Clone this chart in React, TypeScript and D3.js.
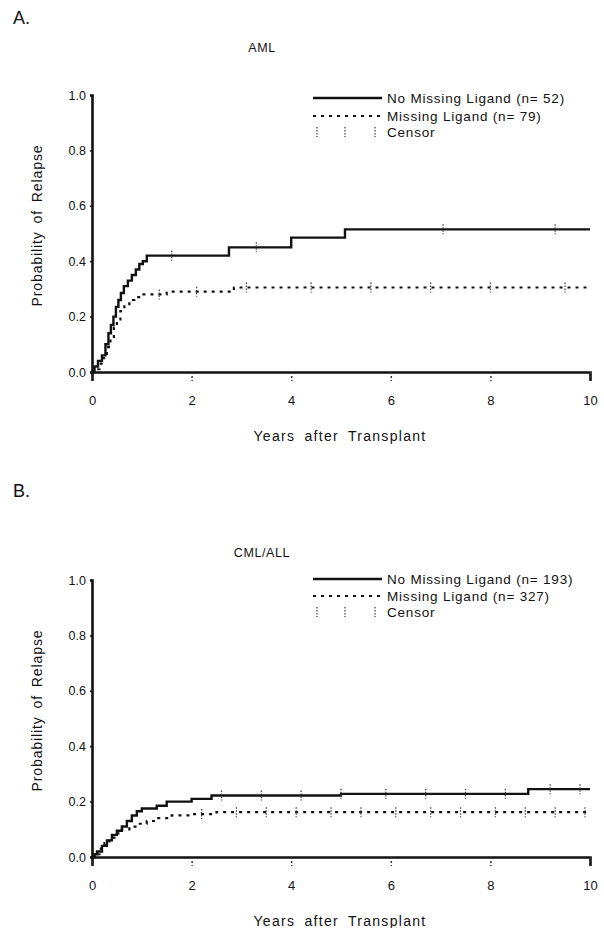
import React, { useEffect, useRef } from 'react';
import * as d3 from 'd3';

// AML panel: [years, cumulative probability] at each step
const amlNoMissing: [number, number][] = [
  [0, 0], [0.05, 0.02], [0.12, 0.04], [0.2, 0.06], [0.27, 0.1], [0.33, 0.14], [0.38, 0.17],
  [0.43, 0.2], [0.48, 0.235], [0.53, 0.26], [0.58, 0.285], [0.64, 0.31], [0.72, 0.33],
  [0.8, 0.35], [0.88, 0.37], [0.95, 0.39], [1.02, 0.4], [1.1, 0.42], [2.75, 0.45],
  [4.0, 0.485], [5.08, 0.515], [10, 0.515],
];
const amlMissing: [number, number][] = [
  [0, 0], [0.08, 0.01], [0.15, 0.03], [0.22, 0.05], [0.3, 0.09], [0.37, 0.12], [0.44, 0.16],
  [0.5, 0.19], [0.57, 0.22], [0.65, 0.245], [0.75, 0.26], [0.85, 0.27], [1.0, 0.28],
  [1.5, 0.29], [2.85, 0.305], [10, 0.305],
];
const amlNoMissingCensor = [1.6, 3.3, 7.05, 9.3];
const amlMissingCensor = [1.35, 2.1, 3.1, 4.4, 5.6, 6.8, 8.0, 9.5];

// CML/ALL panel
const cmlNoMissing: [number, number][] = [
  [0, 0], [0.05, 0.01], [0.1, 0.02], [0.2, 0.04], [0.3, 0.06], [0.4, 0.08], [0.5, 0.095],
  [0.6, 0.11], [0.7, 0.13], [0.8, 0.15], [0.9, 0.165], [1.0, 0.175], [1.3, 0.185],
  [1.5, 0.2], [2.0, 0.21], [2.4, 0.222], [5.0, 0.228], [8.76, 0.245], [10, 0.245],
];
const cmlMissing: [number, number][] = [
  [0, 0], [0.05, 0.01], [0.15, 0.03], [0.25, 0.05], [0.35, 0.07], [0.45, 0.085], [0.6, 0.1],
  [0.75, 0.11], [0.9, 0.12], [1.1, 0.13], [1.3, 0.14], [1.6, 0.15], [2.0, 0.155],
  [2.5, 0.162], [10, 0.162],
];
const cmlNoMissingCensor = [2.6, 3.4, 4.2, 5.0, 5.9, 6.7, 7.5, 8.3, 9.2, 9.8];
const cmlMissingCensor = [2.2, 2.9, 3.5, 4.1, 4.8, 5.4, 6.1, 6.8, 7.4, 8.1, 8.7, 9.3, 9.9];

const xTicks = [0, 2, 4, 6, 8, 10];
const yTicks = [0, 0.2, 0.4, 0.6, 0.8, 1.0];

const panels = [
  {
    letter: 'A.', title: 'AML', letterY: 24, titleY: 52, legY: [98, 116, 132],
    noMissing: amlNoMissing, missing: amlMissing,
    noCensor: amlNoMissingCensor, missCensor: amlMissingCensor,
    labels: ['No Missing Ligand  (n= 52)', 'Missing Ligand  (n= 79)', 'Censor'],
  },
  {
    letter: 'B.', title: 'CML/ALL', letterY: 12, titleY: 72, legY: [94, 111, 127],
    noMissing: cmlNoMissing, missing: cmlMissing,
    noCensor: cmlNoMissingCensor, missCensor: cmlMissingCensor,
    labels: ['No Missing Ligand  (n= 193)', 'Missing Ligand  (n= 327)', 'Censor'],
  },
];

const FONT = '"Liberation Sans", Arial, sans-serif';

export default function App() {
  const ref = useRef<SVGSVGElement>(null);

  useEffect(() => {
    const svg = d3.select(ref.current);
    svg.selectAll('*').remove();

    panels.forEach((p, i) => {
      const off = i * 485;
      const g = svg.append('g').attr('transform', `translate(0, ${off})`);

      const x = d3.scaleLinear().domain([0, 10]).range([92, 590]);
      const y = d3.scaleLinear().domain([0, 1]).range([372, 95]);

      g.append('text').attr('x', 13).attr('y', p.letterY)
        .style('font-family', FONT).style('font-size', '18px').style('fill', '#111')
        .text(p.letter);

      g.append('text').attr('x', 262).attr('y', p.titleY).attr('text-anchor', 'middle')
        .style('font-family', FONT).style('font-size', '12.5px').style('letter-spacing', '0.6px')
        .style('fill', '#111')
        .text(p.title);

      // axes
      const xAxis = g.append('g').attr('transform', `translate(0, ${y(0)})`)
        .call(d3.axisBottom(x).tickValues(xTicks).tickSize(9).tickPadding(15).tickFormat(d3.format('d')));
      xAxis.select('.domain').attr('stroke', '#111').attr('stroke-width', 2.6);
      xAxis.selectAll('.tick line').attr('stroke', '#333').attr('stroke-width', 1.5).attr('stroke-dasharray', '2,2');
      xAxis.selectAll('.tick text').style('font-family', FONT).style('font-size', '13px').style('fill', '#111');

      const yAxis = g.append('g').attr('transform', `translate(${x(0)}, 0)`)
        .call(d3.axisLeft(y).tickValues(yTicks).tickSize(2).tickPadding(4).tickFormat(d3.format('.1f')));
      yAxis.select('.domain').attr('stroke', '#111').attr('stroke-width', 2.6);
      yAxis.selectAll('.tick line').attr('stroke', '#111').attr('stroke-width', 1.5);
      yAxis.selectAll('.tick text').style('font-family', FONT).style('font-size', '12.5px').style('fill', '#111');

      g.append('text').attr('x', 340).attr('y', 441).attr('text-anchor', 'middle')
        .style('font-family', FONT).style('font-size', '14px').style('letter-spacing', '1.3px')
        .style('word-spacing', '4px').style('fill', '#111')
        .text('Years after Transplant');

      g.append('text')
        .attr('transform', `translate(42, ${y(0.5) - 8}) rotate(-90)`)
        .attr('text-anchor', 'middle')
        .style('font-family', FONT).style('font-size', '14px').style('letter-spacing', '0.9px')
        .style('word-spacing', '3px').style('fill', '#111')
        .text('Probability of Relapse');

      const line = d3.line<[number, number]>()
        .x(d => x(d[0])).y(d => y(d[1])).curve(d3.curveStepAfter);

      g.append('path').datum(p.missing).attr('d', line)
        .attr('fill', 'none').attr('stroke', '#111').attr('stroke-width', 2.2)
        .attr('stroke-dasharray', '3,5');
      g.append('path').datum(p.noMissing).attr('d', line)
        .attr('fill', 'none').attr('stroke', '#111').attr('stroke-width', 2.4);

      const stepAt = (data: [number, number][], t: number) => {
        const idx = d3.bisector((d: [number, number]) => d[0]).right(data, t) - 1;
        return data[Math.max(0, idx)][1];
      };
      const censors = [
        ...p.noCensor.map(t => [t, stepAt(p.noMissing, t)]),
        ...p.missCensor.map(t => [t, stepAt(p.missing, t)]),
      ];
      g.selectAll('.censor').data(censors).join('line').attr('class', 'censor')
        .attr('x1', d => x(d[0])).attr('x2', d => x(d[0]))
        .attr('y1', d => y(d[1]) - 5).attr('y2', d => y(d[1]) + 5)
        .attr('stroke', '#444').attr('stroke-width', 1.3).attr('stroke-dasharray', '1.5,1.5');

      // legend
      const legY = p.legY;
      const lx0 = 313, lx1 = 382;
      g.append('line').attr('x1', lx0).attr('x2', lx1).attr('y1', legY[0]).attr('y2', legY[0])
        .attr('stroke', '#111').attr('stroke-width', 2.4);
      g.append('line').attr('x1', lx0).attr('x2', lx1).attr('y1', legY[1]).attr('y2', legY[1])
        .attr('stroke', '#111').attr('stroke-width', 2.2).attr('stroke-dasharray', '3,5');
      [lx0 + 4, lx0 + 32, lx0 + 62].forEach(cx => {
        g.append('line').attr('x1', cx).attr('x2', cx).attr('y1', legY[2] - 5).attr('y2', legY[2] + 5)
          .attr('stroke', '#444').attr('stroke-width', 1.3).attr('stroke-dasharray', '1.5,1.5');
      });
      p.labels.forEach((lab, k) => {
        g.append('text').attr('x', lx1 + 5).attr('y', legY[k] + 4.5)
          .style('font-family', FONT).style('font-size', '13.5px').style('letter-spacing', '0.8px')
          .style('fill', '#111')
          .text(lab);
      });
    });
  }, []);

  return (
    <svg ref={ref} width={604} height={928}
      style={{ position: 'absolute', left: 0, top: 0, background: '#fff' }} />
  );
}
